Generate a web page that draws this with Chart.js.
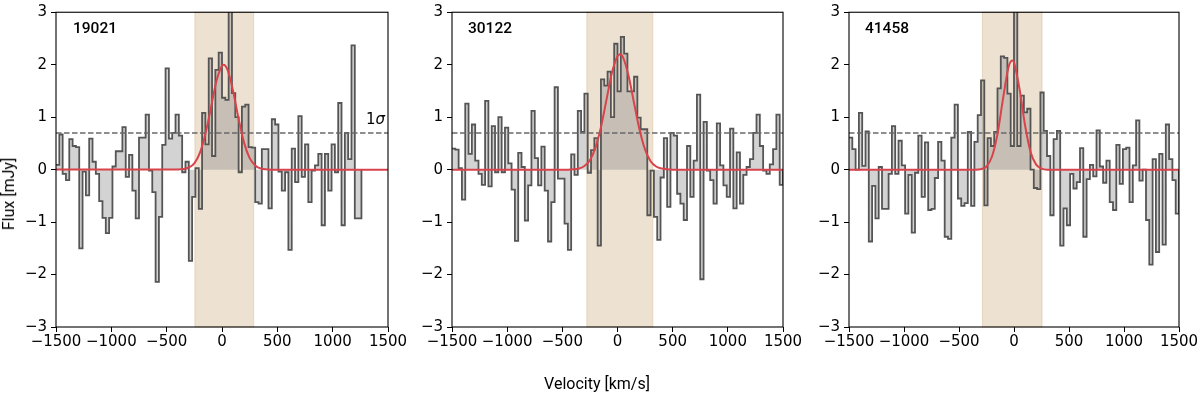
<!DOCTYPE html>
<html>
<head>
<meta charset="utf-8">
<script src="https://cdn.jsdelivr.net/npm/chart.js@4.4.1/dist/chart.umd.min.js"></script>
<style>
  body { margin: 0; background: #fff; width: 1200px; height: 396px; overflow: hidden; position: relative; }
  canvas { position: absolute; top: 0; }
  .txt { position: absolute; color: #000; white-space: nowrap; line-height: 1; }
  .name { font-family: Roboto, sans-serif; font-size: 15.5px; font-weight: 500; transform: translateY(-50%); top: 29px; }
  .axlabel { font-family: Roboto, sans-serif; font-size: 16px; }
</style>
</head>
<body>
<canvas id="c1"></canvas>
<canvas id="c2"></canvas>
<canvas id="c3"></canvas>

<div class="txt name" style="left:73px">19021</div>
<div class="txt name" style="left:468px">30122</div>
<div class="txt name" style="left:865px">41458</div>
<div class="txt" style="left:366px; top:119px; transform:translateY(-50%); font-family:'DejaVu Sans',sans-serif; font-size:15px">1<i>σ</i></div>
<div class="txt axlabel" style="left:597px; top:384px; transform:translate(-50%,-50%)">Velocity [km/s]</div>
<div class="txt axlabel" style="left:9px; top:194px; transform:translate(-50%,-50%) rotate(-90deg)">Flux [mJy]</div>

<script>
// canais de velocidade (início de cada canal, km/s), largura 30 km/s
const chanWidth = 30;
const channels = [
  -1500, -1470, -1440, -1410, -1380, -1350, -1320, -1290, -1260, -1230,
  -1200, -1170, -1140, -1110, -1080, -1050, -1020, -990, -960, -930,
  -900, -870, -840, -810, -780, -750, -720, -690, -660, -630,
  -600, -570, -540, -510, -480, -450, -420, -390, -360, -330,
  -300, -270, -240, -210, -180, -150, -120, -90, -60, -30,
  0, 30, 60, 90, 120, 150, 180, 210, 240, 270,
  300, 330, 360, 390, 420, 450, 480, 510, 540, 570,
  600, 630, 660, 690, 720, 750, 780, 810, 840, 870,
  900, 930, 960, 990, 1020, 1050, 1080, 1110, 1140, 1170,
  1200, 1230, 1260, 1290, 1320, 1350, 1380, 1410, 1440, 1470
];

const sourceNames = ['19021', '30122', '41458'];

// fluxo por canal (mJy)
const flux19021 = [
  0.09, 0.67, -0.08, -0.20, 0.58, 0.45, 0.43, -1.50, -0.04, -0.49,
  0.59, 0.15, -0.08, -0.60, -0.92, -1.21, -0.92, 0.06, 0.35, 0.35,
  0.81, -0.14, 0.28, -0.40, -0.93, 0.61, 0.61, 1.05, -0.02, -0.43,
  -2.14, -0.90, 0.47, 1.93, 0.59, 0.70, 1.05, 0.65, -0.05, 0.15,
  -1.74, -0.52, 0.03, -0.75, 1.08, 0.48, 2.12, 0.26, 1.90, 2.23,
  1.37, 1.33, 3.30, 1.46, 1.00, -0.05, 1.20, 1.24, 0.43, 0.42,
  -0.62, -0.65, 0.39, 0.39, -0.74, 0.96, 0.86, -0.04, -0.40, -0.05,
  -1.53, 0.40, -0.24, 1.02, -0.14, 0.48, -0.62, -0.02, 0.08, 0.30,
  -1.06, 0.30, -0.40, 0.48, -0.05, 1.27, -1.06, 0.70, 0.20, 2.37,
  -0.93, -0.93
];
const flux30122 = [
  0.40, 0.38, 0.03, -0.57, 1.26, 0.30, 0.86, 0.17, -0.08, -0.29,
  1.31, -0.32, 0.83, -0.05, 1.00, -0.05, 0.80, 0.12, -0.38, -1.36,
  0.32, 0.05, -0.97, -0.30, 1.12, 0.22, -0.30, 0.44, -0.40, -1.37,
  -0.62, 1.57, -0.17, -0.17, -1.03, -1.53, 0.29, -0.10, 1.12, 0.72,
  1.45, -0.06, 0.37, 0.60, -1.45, 1.72, 1.60, 1.87, 1.00, 2.40,
  1.49, 2.53, 2.21, 1.49, 1.49, 1.77, 0.99, 0.77, 0.77, -0.87,
  -0.02, -0.90, -1.34, -0.15, 0.60, -0.71, 0.70, 0.65, -0.46, -0.65,
  -0.96, 0.45, -0.52, 0.17, 1.43, -2.09, 0.91, -0.02, -0.20, -0.65,
  0.88, 0.08, -0.30, -0.52, 0.78, -0.74, 0.33, -0.65, -0.10, 0.05,
  0.20, 0.70, 1.05, 0.45, -0.02, -0.08, 0.10, 0.39, 1.05, -0.29
];
const flux41458 = [
  0.61, 0.39, 0.00, 1.08, 0.07, 0.73, -1.37, -0.31, -0.93, 0.05,
  -0.75, -0.75, -0.08, 0.83, -0.08, 0.55, 0.08, -0.84, -0.10, -1.20,
  -0.06, 0.65, -0.52, 0.52, -0.77, -0.75, -0.16, 0.53, 0.17, -1.28,
  -1.32, 0.61, 1.24, -0.55, -0.69, -0.64, 0.72, -0.69, 0.53, 1.04,
  1.70, -0.68, 0.60, 0.45, 0.72, 1.55, 2.16, 2.13, 1.45, 0.45,
  3.30, 0.45, 1.41, 1.09, 1.16, 0.00, -0.35, -0.37, 1.47, 0.74,
  0.26, -0.87, 0.58, 0.74, -1.45, -0.74, -1.06, -0.08, -0.36, -0.24,
  0.41, -1.28, -0.18, 0.09, -0.13, 0.75, 0.06, -0.25, 0.17, -0.62,
  -0.77, 0.47, -0.27, 0.39, 0.42, -0.62, 0.08, 0.94, -0.21, 0.00,
  -0.96, -1.81, 0.20, -1.57, 0.30, -1.43, 0.86, 0.20, -0.20, -0.84
];

const fitVel19021 = [-1500, -400, -300, -250, -200, -150, -100, -50, 0, 15, 50, 100, 150, 200, 250, 300, 350, 450, 1500];
const fitFlux19021 = [0, 0.002, 0.04, 0.12, 0.32, 0.68, 1.18, 1.69, 1.98, 2.0, 1.90, 1.50, 0.97, 0.51, 0.22, 0.08, 0.02, 0, 0];
const fitVel30122 = [-1500, -450, -350, -300, -250, -200, -150, -100, -50, 0, 22, 50, 100, 150, 200, 250, 300, 350, 400, 500, 1500];
const fitFlux30122 = [0, 0, 0.02, 0.07, 0.18, 0.42, 0.81, 1.33, 1.85, 2.16, 2.2, 2.14, 1.79, 1.27, 0.76, 0.38, 0.16, 0.06, 0.02, 0, 0];
const fitVel41458 = [-1500, -350, -300, -250, -200, -150, -100, -50, -18, 0, 50, 100, 150, 200, 250, 300, 1500];
const fitFlux41458 = [0, 0, 0.01, 0.06, 0.25, 0.68, 1.35, 1.95, 2.08, 2.04, 1.54, 0.85, 0.34, 0.10, 0.02, 0, 0];

// faixa de integração e nível 1 sigma
const windowLo = [-245, -278, -287];
const windowHi = [286, 320, 255];
const sigmaLevel = [0.7, 0.7, 0.7];

const xTicks = [-1500, -1000, -500, 0, 500, 1000, 1500];
const yTicks = [-3, -2, -1, 0, 1, 2, 3];

Chart.defaults.font.family = "'DejaVu Sans', sans-serif";
Chart.defaults.font.size = 15;
Chart.defaults.color = '#000';

const minus = v => String(v).replace('-', '\u2212');

const panelDecor = {
  id: 'panelDecor',
  beforeDatasetsDraw(chart, args, opts) {
    const { ctx, chartArea: a, scales: { x } } = chart;
    const x0 = x.getPixelForValue(opts.lo), x1 = x.getPixelForValue(opts.hi);
    ctx.save();
    ctx.fillStyle = 'rgba(210, 180, 140, 0.4)';
    ctx.fillRect(x0, a.top, x1 - x0, a.bottom - a.top);
    ctx.strokeStyle = 'rgba(210, 180, 140, 0.45)';
    ctx.lineWidth = 1;
    ctx.strokeRect(x0, a.top, x1 - x0, a.bottom - a.top);
    ctx.restore();
  },
  afterDatasetsDraw(chart) {
    const { ctx, chartArea: a } = chart;
    ctx.save();
    ctx.strokeStyle = '#000';
    ctx.lineWidth = 1.1;
    ctx.strokeRect(a.left, a.top, a.right - a.left, a.bottom - a.top);
    ctx.restore();
  }
};

function renderPanel(id, left, width, flux, fitVel, fitFlux, k) {
  const canvas = document.getElementById(id);
  canvas.width = width + 50 + 30;
  canvas.height = 396;
  canvas.style.left = (left - 50) + 'px';

  const hist = flux.map((f, i) => ({ x: channels[i], y: f }));
  const end = channels[flux.length - 1] + chanWidth;
  hist.push({ x: end, y: flux[flux.length - 1] }, { x: end, y: 0 });

  const fit = fitVel.map((v, i) => ({ x: v, y: fitFlux[i] }));

  return new Chart(canvas, {
    type: 'line',
    data: {
      datasets: [
        {
          data: fit,
          borderColor: '#d9434b',
          borderWidth: 2,
          pointRadius: 0,
          cubicInterpolationMode: 'monotone',
          fill: false,
          order: 1
        },
        {
          data: [{ x: -1500, y: sigmaLevel[k] }, { x: 1500, y: sigmaLevel[k] }],
          borderColor: '#6a6a6a',
          borderWidth: 1.5,
          borderDash: [5.5, 2.5],
          pointRadius: 0,
          fill: false,
          order: 2
        },
        {
          data: hist,
          stepped: true,
          borderColor: '#555',
          borderWidth: 1.8,
          backgroundColor: 'rgba(128, 128, 128, 0.35)',
          fill: 'origin',
          pointRadius: 0,
          order: 3
        }
      ]
    },
    options: {
      responsive: false,
      maintainAspectRatio: false,
      animation: false,
      layout: { padding: { left: 0, right: 30, top: 8, bottom: 0 } },
      plugins: {
        legend: { display: false },
        tooltip: { enabled: false },
        panelDecor: { lo: windowLo[k], hi: windowHi[k] }
      },
      scales: {
        x: {
          type: 'linear',
          min: xTicks[0],
          max: xTicks[xTicks.length - 1],
          afterBuildTicks: s => { s.ticks = xTicks.map(v => ({ value: v })); },
          ticks: { callback: minus, padding: 2, maxRotation: 0, autoSkip: false, font: { lineHeight: 1.1 } },
          grid: { drawOnChartArea: false, drawTicks: true, tickLength: 5, color: '#000', tickColor: '#000' },
          border: { display: false },
          afterFit: s => { s.height = 69; }
        },
        y: {
          min: yTicks[0],
          max: yTicks[yTicks.length - 1],
          afterBuildTicks: s => { s.ticks = yTicks.map(v => ({ value: v })); },
          ticks: { callback: minus, padding: 4, font: { lineHeight: 1.1 } },
          grid: { drawOnChartArea: false, drawTicks: true, tickLength: 5, color: '#000', tickColor: '#000' },
          border: { display: false },
          afterFit: s => { s.width = 50; }
        }
      }
    },
    plugins: [panelDecor]
  });
}

renderPanel('c1', 56, 332, flux19021, fitVel19021, fitFlux19021, 0);
renderPanel('c2', 452, 331, flux30122, fitVel30122, fitFlux30122, 1);
renderPanel('c3', 849, 330, flux41458, fitVel41458, fitFlux41458, 2);
</script>
</body>
</html>
